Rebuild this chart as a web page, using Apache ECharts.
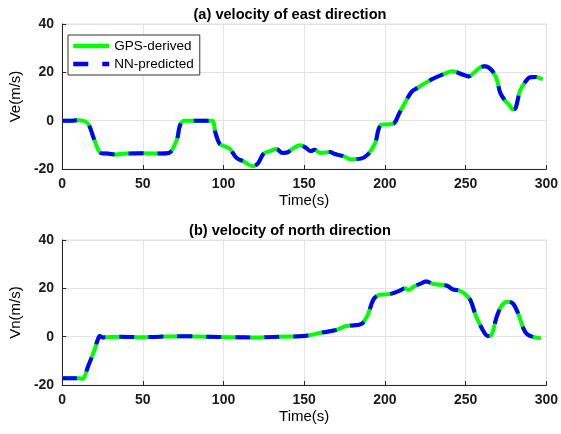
<!DOCTYPE html>
<html><head><meta charset="utf-8">
<script src="https://cdn.jsdelivr.net/npm/echarts@6/dist/echarts.min.js"></script>
<style>html,body{margin:0;padding:0;background:#fff}#c{width:561px;height:434px}</style>
</head><body><div id="c"></div>
<script>
// Time (s) sample points and velocities
var eastT = [0,5,10,13,16.4,20,24,28,33,40,50,60,66,71,73,75.5,80,88,93,95,97.5,100.7,104,108,112.8,118,121.5,124.8,130,132.5,136.8,140,143.4,147.4,151,154,156.6,160,166,168.6,173,176,178.5,185,189.4,194,196,198,202.5,205.8,209,213.5,216.8,220,228.8,235.4,242,248.5,251.8,255,258.4,261.7,266,269.3,271.5,274.8,277,279.3,281,283.6,286.8,290,293.4,297.8];
var gpsEast = [0,0,0.2,0,-1.6,-8,-13.4,-13.6,-14,-13.6,-13.5,-13.6,-13.4,-8,-2,0,0,0,0,-5,-9.5,-10.6,-11.7,-15.4,-17,-18.9,-17.5,-13.7,-12.3,-11.7,-13.4,-13,-11.3,-10.2,-11.2,-12.6,-12,-13.4,-13,-13.7,-14.5,-15.2,-16,-15.7,-14,-9.2,-3.7,-1.6,-1.5,-1,3.2,8.7,12.1,13.5,17,19,20.4,19,18.3,19.7,21.8,22.5,21,17,11.4,8,6.6,4.6,5.2,12.1,15.9,18,18.1,17];
var nnEast = [0,0,0.2,0,-1.6,-8,-13.4,-13.6,-14,-13.6,-13.5,-13.6,-13.4,-8,-2,0,0,0,0,-5,-9.5,-10.6,-11.7,-15.4,-17,-18.9,-17.5,-13.7,-12.3,-11.7,-13.4,-13,-11.3,-10.2,-11.2,-12.6,-12,-13.4,-13,-13.7,-14.5,-15.2,-16,-15.7,-14,-9.2,-3.7,-1.6,-1.5,-1,3.2,8.7,12.1,13.5,17,19,20.4,19,18.3,19.7,21.8,22.5,21,17,11.4,8,6.6,4.6,5.2,12.1,15.9,18,18.1,17];

var northT = [0,5,11,12.5,16.4,19.7,22,23.4,25,35,50,60,75,90,105,120,135,150,161,170,176,183,186,189.4,192.7,196,200.4,204.7,209,212.4,214.6,217.9,222.3,225.5,230,235.4,238.7,242,246.3,249.6,252.9,256.2,260.6,263.8,266,269.3,272.6,275.9,279.2,282.5,285.8,288,291.3,296.7];
var gpsNorth = [-17.2,-17.2,-17.2,-17.5,-11.7,-6.2,-1.4,0.3,-0.3,0,-0.2,0,0.2,0,-0.2,-0.3,0,0.3,1.7,2.8,4.4,4.8,5.5,9,15.2,17.2,17.5,17.9,19,20,19.3,20.7,22,22.8,21.8,21.4,21,19.6,19,17.7,15.2,9,2.8,0.3,0.7,8.3,13.1,14.5,13.8,9.7,3.4,1.1,0,-0.7];
var nnNorth = [-17.2,-17.2,-17.2,-17.5,-11.7,-6.2,-1.4,0.3,-0.3,0,-0.2,0,0.2,0,-0.2,-0.3,0,0.3,1.7,2.8,4.4,4.8,5.5,9,15.2,17.2,17.5,17.9,19,20,19.3,20.7,22,22.8,21.8,21.4,21,19.6,19,17.7,15.2,9,2.8,0.3,0.7,8.3,13.1,14.5,13.8,9.7,3.4,1.1,0,-0.7];

var xTicks = [0,50,100,150,200,250,300];
var yTicks = [-20,0,20,40];
var titles = ['(a) velocity of east direction','(b) velocity of north direction'];
var yNames = ['Ve(m/s)','Vn(m/s)'];
var seriesNames = ['GPS-derived','NN-predicted'];

function pairs(t, v){ return t.map(function(x,i){ return [x, v[i]]; }); }

var FONT = 'Liberation Sans, Arial, sans-serif';
var GREEN = '#00ff00', BLUE = '#0000ff';

function xAxis(idx){
  return {
    gridIndex: idx, type: 'value', min: xTicks[0], max: xTicks[xTicks.length-1], interval: 50,
    name: 'Time(s)', nameLocation: 'middle', nameGap: 24,
    nameTextStyle: {fontFamily: FONT, fontSize: 15, color: '#000'},
    axisLine: {show: true, onZero: false, lineStyle: {color: '#262626', width: 1}},
    axisTick: {show: true, inside: true, length: 4, lineStyle: {color: '#262626'}},
    axisLabel: {fontFamily: FONT, fontSize: 14, fontWeight: 'bold', color: '#1a1a1a', margin: 8},
    splitLine: {show: true, lineStyle: {color: '#e3e3e3', width: 1}}
  };
}
function yAxis(idx){
  return {
    gridIndex: idx, type: 'value', min: yTicks[0], max: yTicks[yTicks.length-1], interval: 20,
    name: yNames[idx], nameLocation: 'middle', nameGap: 38,
    nameTextStyle: {fontFamily: FONT, fontSize: 15, color: '#000'},
    axisLine: {show: true, onZero: false, lineStyle: {color: '#262626', width: 1}},
    axisTick: {show: true, inside: true, length: 4, lineStyle: {color: '#262626'}},
    axisLabel: {fontFamily: FONT, fontSize: 14, fontWeight: 'bold', color: '#1a1a1a', margin: 8},
    splitLine: {show: true, lineStyle: {color: '#e3e3e3', width: 1}}
  };
}
function line(name, data, idx, color, dashed, z){
  return {
    name: name, type: 'line', xAxisIndex: idx, yAxisIndex: idx,
    data: data, smooth: 0.35, symbol: 'none', z: z,
    lineStyle: {color: color, width: 4, type: dashed ? [15, 14] : 'solid', cap: 'butt'},
    itemStyle: {color: color}
  };
}

var chart = echarts.init(document.getElementById('c'), null, {renderer: 'canvas'});
chart.setOption({
  animation: false,
  backgroundColor: '#fff',
  title: [
    {text: titles[0], left: 285, top: 2, textAlign: 'center', textStyle: {fontFamily: FONT, fontSize: 14.6, fontWeight: 'bold', color: '#000'}},
    {text: titles[1], left: 285, top: 218, textAlign: 'center', textStyle: {fontFamily: FONT, fontSize: 14.6, fontWeight: 'bold', color: '#000'}}
  ],
  legend: {
    data: seriesNames, orient: 'vertical', left: 68, top: 35,
    backgroundColor: '#fff', borderColor: '#333', borderWidth: 1, borderRadius: 0,
    padding: [4, 6, 4, 3], itemGap: 4, itemWidth: 36, itemHeight: 12,
    itemStyle: {opacity: 0},
    lineStyle: {width: 4.5},
    textStyle: {fontFamily: FONT, fontSize: 13.5, color: '#000'}
  },
  grid: [
    {left: 59.5, right: 13, top: 24, height: 145, show: true, borderColor: '#e3e3e3', borderWidth: 1, backgroundColor: 'transparent'},
    {left: 59.5, right: 13, top: 240, height: 145, show: true, borderColor: '#e3e3e3', borderWidth: 1, backgroundColor: 'transparent'}
  ],
  xAxis: [xAxis(0), xAxis(1)],
  yAxis: [yAxis(0), yAxis(1)],
  series: [
    line(seriesNames[0], pairs(eastT, gpsEast), 0, GREEN, false, 2),
    line(seriesNames[1], pairs(eastT, nnEast), 0, BLUE, true, 3),
    line(seriesNames[0], pairs(northT, gpsNorth), 1, GREEN, false, 2),
    line(seriesNames[1], pairs(northT, nnNorth), 1, BLUE, true, 3)
  ]
});
</script>
</body></html>
